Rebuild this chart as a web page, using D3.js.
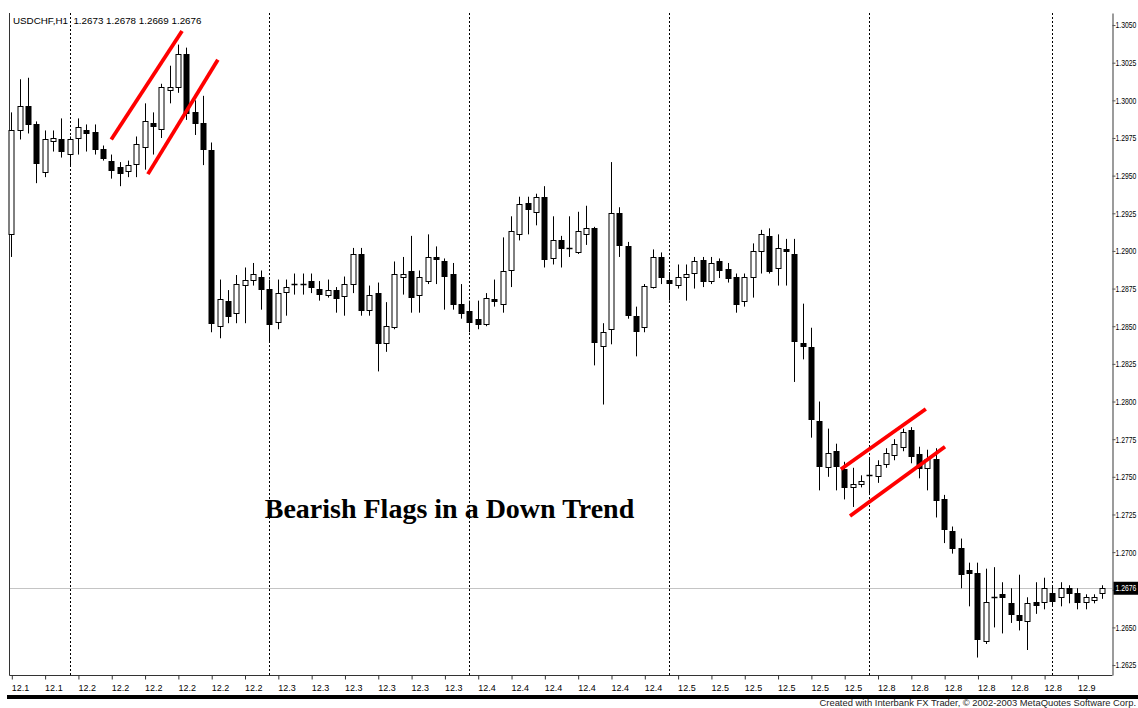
<!DOCTYPE html>
<html>
<head>
<meta charset="utf-8">
<script src="https://cdn.jsdelivr.net/npm/d3@7"></script>
<style>
  html, body { margin: 0; padding: 0; background: #fff; overflow: hidden; }
  svg { display: block; }
</style>
</head>
<body>
<svg id="chart" width="1138" height="708"></svg>
<script>
// USDCHF hourly bars
const symbol = "USDCHF,H1";

const open = [
  1.2911, 1.2980, 1.2996, 1.2984, 1.2952, 1.2973, 1.2974, 1.2964, 1.2975, 1.2980,
  1.2979, 1.2968, 1.2960, 1.2956, 1.2953, 1.2958, 1.2969, 1.2985, 1.2981, 1.3007,
  1.3009, 1.3031, 1.2992, 1.2985, 1.2967, 1.2850, 1.2867, 1.2859, 1.2878, 1.2881,
  1.2883, 1.2875, 1.2853, 1.2873, 1.2878, 1.2878, 1.2880, 1.2875, 1.2871, 1.2874,
  1.2870, 1.2878, 1.2898, 1.2861, 1.2872, 1.2839, 1.2850, 1.2883, 1.2887, 1.2871,
  1.2880, 1.2896, 1.2893, 1.2885, 1.2865, 1.2860, 1.2855, 1.2852, 1.2868, 1.2865,
  1.2887, 1.2911, 1.2932, 1.2926, 1.2936, 1.2895, 1.2907, 1.2902, 1.2899, 1.2911,
  1.2915, 1.2837, 1.2848, 1.2925, 1.2903, 1.2857, 1.2850, 1.2876, 1.2896, 1.2881,
  1.2878, 1.2883, 1.2885, 1.2894, 1.2880, 1.2893, 1.2888, 1.2883, 1.2867, 1.2883,
  1.2900, 1.2910, 1.2889, 1.2901, 1.2898, 1.2839, 1.2836, 1.2787, 1.2757, 1.2767,
  1.2755, 1.2743, 1.2745, 1.2751, 1.2751, 1.2759, 1.2765, 1.2770, 1.2781, 1.2765,
  1.2756, 1.2762, 1.2735, 1.2714, 1.2703, 1.2688, 1.2686, 1.2641, 1.2670, 1.2672,
  1.2666, 1.2658, 1.2654, 1.2667, 1.2667, 1.2673, 1.2670, 1.2676, 1.2673, 1.2667,
  1.2668, 1.2673
];
const high = [
  1.2992, 1.3014, 1.3015, 1.2986, 1.2980, 1.2980, 1.2988, 1.2976, 1.2988, 1.2984,
  1.2984, 1.2970, 1.2964, 1.2959, 1.2960, 1.2976, 1.2998, 1.2992, 1.3011, 1.3023,
  1.3037, 1.3035, 1.3000, 1.3003, 1.2972, 1.2881, 1.2874, 1.2884, 1.2889, 1.2892,
  1.2887, 1.2881, 1.2881, 1.2881, 1.2885, 1.2885, 1.2885, 1.2880, 1.2881, 1.2876,
  1.2883, 1.2902, 1.2902, 1.2877, 1.2879, 1.2866, 1.2893, 1.2896, 1.2910, 1.2887,
  1.2911, 1.2903, 1.2895, 1.2892, 1.2878, 1.2867, 1.2867, 1.2872, 1.2881, 1.2909,
  1.2923, 1.2936, 1.2936, 1.2938, 1.2943, 1.2923, 1.2910, 1.2923, 1.2926, 1.2930,
  1.2916, 1.2852, 1.2959, 1.2929, 1.2906, 1.2863, 1.2878, 1.2901, 1.2899, 1.2886,
  1.2891, 1.2891, 1.2896, 1.2896, 1.2896, 1.2895, 1.2892, 1.2885, 1.2885, 1.2905,
  1.2914, 1.2915, 1.2911, 1.2908, 1.2908, 1.2865, 1.2849, 1.2800, 1.2782, 1.2772,
  1.2760, 1.2756, 1.2751, 1.2763, 1.2761, 1.2769, 1.2775, 1.2782, 1.2783, 1.2770,
  1.2768, 1.2769, 1.2738, 1.2717, 1.2709, 1.2693, 1.2693, 1.2689, 1.2690, 1.2680,
  1.2676, 1.2685, 1.2670, 1.2680, 1.2683, 1.2678, 1.2680, 1.2678, 1.2676, 1.2672,
  1.2672, 1.2678
];
const low = [
  1.2896, 1.2974, 1.2978, 1.2945, 1.2949, 1.2966, 1.2962, 1.2956, 1.2964, 1.2966,
  1.2964, 1.2960, 1.2948, 1.2943, 1.2949, 1.2949, 1.2954, 1.2964, 1.2975, 1.2998,
  1.3005, 1.2987, 1.2977, 1.2957, 1.2846, 1.2842, 1.2852, 1.2852, 1.2852, 1.2877,
  1.2861, 1.2839, 1.2848, 1.2857, 1.2871, 1.2871, 1.2872, 1.2867, 1.2869, 1.2859,
  1.2857, 1.2872, 1.2857, 1.2857, 1.2820, 1.2833, 1.2848, 1.2871, 1.2859, 1.2859,
  1.2878, 1.2878, 1.2861, 1.2861, 1.2855, 1.2846, 1.2848, 1.2850, 1.2863, 1.2859,
  1.2876, 1.2907, 1.2911, 1.2917, 1.2889, 1.2891, 1.2889, 1.2896, 1.2898, 1.2904,
  1.2824, 1.2798, 1.2838, 1.2896, 1.2855, 1.2830, 1.2846, 1.2875, 1.2878, 1.2867,
  1.2875, 1.2867, 1.2875, 1.2876, 1.2878, 1.2882, 1.2879, 1.2859, 1.2863, 1.2869,
  1.2885, 1.2885, 1.2877, 1.2877, 1.2813, 1.2828, 1.2776, 1.2741, 1.2750, 1.2741,
  1.2735, 1.2730, 1.2743, 1.2739, 1.2746, 1.2756, 1.2761, 1.2767, 1.2759, 1.2749,
  1.2741, 1.2723, 1.2706, 1.2699, 1.2676, 1.2664, 1.2630, 1.2639, 1.2650, 1.2646,
  1.2653, 1.2648, 1.2635, 1.2659, 1.2662, 1.2664, 1.2664, 1.2666, 1.2662, 1.2662,
  1.2666, 1.2669
];
const close = [
  1.2980, 1.2996, 1.2984, 1.2958, 1.2974, 1.2975, 1.2966, 1.2974, 1.2982, 1.2978,
  1.2968, 1.2962, 1.2954, 1.2952, 1.2957, 1.2971, 1.2986, 1.2983, 1.3009, 1.3009,
  1.3031, 1.2992, 1.2985, 1.2968, 1.2852, 1.2868, 1.2857, 1.2878, 1.2881, 1.2885,
  1.2875, 1.2852, 1.2872, 1.2876, 1.2878, 1.2878, 1.2876, 1.2872, 1.2874, 1.2869,
  1.2878, 1.2898, 1.2861, 1.2871, 1.2839, 1.2850, 1.2885, 1.2885, 1.2870, 1.2883,
  1.2896, 1.2895, 1.2883, 1.2865, 1.2859, 1.2853, 1.2852, 1.2869, 1.2867, 1.2887,
  1.2913, 1.2931, 1.2928, 1.2936, 1.2895, 1.2907, 1.2902, 1.2902, 1.2913, 1.2915,
  1.2839, 1.2846, 1.2925, 1.2904, 1.2857, 1.2847, 1.2877, 1.2896, 1.2883, 1.2879,
  1.2883, 1.2885, 1.2893, 1.2880, 1.2892, 1.2887, 1.2882, 1.2865, 1.2883, 1.2900,
  1.2911, 1.2887, 1.2902, 1.2900, 1.2840, 1.2837, 1.2788, 1.2757, 1.2766, 1.2757,
  1.2743, 1.2745, 1.2747, 1.2751, 1.2758, 1.2766, 1.2772, 1.2780, 1.2764, 1.2756,
  1.2762, 1.2735, 1.2715, 1.2703, 1.2686, 1.2686, 1.2642, 1.2667, 1.2670, 1.2670,
  1.2659, 1.2655, 1.2666, 1.2665, 1.2676, 1.2668, 1.2676, 1.2673, 1.2667, 1.2670,
  1.2670, 1.2676
];

// time axis labels, one every four bars
const timeLabels = [
  "12.1", "12.1", "12.2", "12.2", "12.2", "12.2", "12.2", "12.2",
  "12.3", "12.3", "12.3", "12.3", "12.3", "12.3",
  "12.4", "12.4", "12.4", "12.4", "12.4", "12.4",
  "12.5", "12.5", "12.5", "12.5", "12.5", "12.5",
  "12.8", "12.8", "12.8", "12.8", "12.8", "12.8", "12.9"
];

const priceTicks = [
  1.2625, 1.2650, 1.2675, 1.2700, 1.2725, 1.2750, 1.2775, 1.2800, 1.2825,
  1.2850, 1.2875, 1.2900, 1.2925, 1.2950, 1.2975, 1.3000, 1.3025, 1.3050
];

// bars that open a new trading day
const daySeparators = [7, 31, 55, 79, 103, 125];

// flag channel boundaries: [bar, price, bar, price]
const flagLines = [
  [12.0, 1.2974, 20.5, 1.3046],
  [16.4, 1.2951, 24.8, 1.3027],
  [99.6, 1.2755, 109.8, 1.2795],
  [100.7, 1.2724, 112.1, 1.2770]
];

const chartTitle = "Bearish Flags in a Down Trend";
const credit = "Created with Interbank FX Trader, \u00a9 2002-2003 MetaQuotes Software Corp.";

// ---- layout ----
const SANS = "'Liberation Sans', Arial, sans-serif";
const SERIF = "'Liberation Serif', 'Times New Roman', serif";
const n = open.length;
const plotLeft = 9.5, plotRight = 1112.5, plotTop = 13, plotBottom = 675.5;
const fmt = d3.format(".4f");
const labelSqueeze = 0.76;   // narrow price labels so they fit the right margin

const svg = d3.select("#chart");
svg.append("rect").attr("width", 1138).attr("height", 708).attr("fill", "#fff");

const x = d3.scaleLinear().domain([0, n - 1]).range([11.3, 1102.4]);
const y = d3.scaleLinear().domain([1.26184, 1.30580]).range([675, 13]);

const px = i => Math.round(x(i)) + 0.5;

// day separators
svg.append("g").selectAll("line").data(daySeparators).join("line")
  .attr("x1", d => px(d)).attr("x2", d => px(d))
  .attr("y1", plotTop).attr("y2", plotBottom)
  .attr("stroke", "#000").attr("stroke-width", 1)
  .attr("stroke-dasharray", "2,2");

// current price line
const last = close[n - 1];
svg.append("line")
  .attr("x1", plotLeft).attr("x2", plotRight)
  .attr("y1", Math.round(y(last)) + 0.5).attr("y2", Math.round(y(last)) + 0.5)
  .attr("stroke", "#c4c4c4").attr("stroke-width", 1);

// frame
svg.append("line").attr("x1", plotLeft).attr("x2", plotLeft)
  .attr("y1", plotTop).attr("y2", plotBottom)
  .attr("stroke", "#333").attr("stroke-width", 1);
svg.append("line").attr("x1", plotLeft).attr("x2", plotRight)
  .attr("y1", plotBottom).attr("y2", plotBottom)
  .attr("stroke", "#333").attr("stroke-width", 1);

// candles
const bars = d3.range(n).map(i => ({ i, o: open[i], h: high[i], l: low[i], c: close[i] }));
const cg = svg.append("g");

cg.selectAll("line.wick").data(bars).join("line")
  .attr("class", "wick")
  .attr("x1", d => px(d.i)).attr("x2", d => px(d.i))
  .attr("y1", d => y(d.h)).attr("y2", d => y(d.l))
  .attr("stroke", "#000").attr("stroke-width", 1);

const bodies = bars.filter(d => Math.abs(y(d.o) - y(d.c)) >= 1);
const dojis = bars.filter(d => Math.abs(y(d.o) - y(d.c)) < 1);

cg.selectAll("rect.body").data(bodies).join("rect")
  .attr("class", "body")
  .attr("x", d => px(d.i) - 2.5)
  .attr("width", 5)
  .attr("y", d => Math.round(y(Math.max(d.o, d.c))) + 0.5)
  .attr("height", d => Math.max(1, Math.round(Math.abs(y(d.o) - y(d.c)))))
  .attr("fill", d => d.c >= d.o ? "#fff" : "#000")
  .attr("stroke", "#000").attr("stroke-width", 1);

cg.selectAll("line.doji").data(dojis).join("line")
  .attr("class", "doji")
  .attr("x1", d => px(d.i) - 3).attr("x2", d => px(d.i) + 3)
  .attr("y1", d => Math.round(y(d.c)) + 0.5).attr("y2", d => Math.round(y(d.c)) + 0.5)
  .attr("stroke", "#000").attr("stroke-width", 1.5);

// flag channels
svg.append("g").selectAll("line").data(flagLines).join("line")
  .attr("x1", d => x(d[0])).attr("y1", d => y(d[1]))
  .attr("x2", d => x(d[2])).attr("y2", d => y(d[3]))
  .attr("stroke", "#ff0000").attr("stroke-width", 3.8);

// price axis
const yAxis = svg.append("g")
  .attr("transform", `translate(${plotRight},0)`)
  .call(d3.axisRight(y).tickValues(priceTicks).tickFormat(fmt)
    .tickSize(3).tickSizeOuter(0).tickPadding(0));
yAxis.select(".domain").attr("stroke", "#7a7a7a").attr("stroke-width", 1.5);
yAxis.selectAll(".tick line").attr("stroke", "#555");
yAxis.selectAll("text")
  .attr("x", 0).attr("transform", `translate(3,0) scale(${labelSqueeze},1)`)
  .style("font-family", SANS).style("font-size", "9px").attr("fill", "#000");

// current price marker
const cy = y(last);
svg.append("rect").attr("x", 1113.5).attr("y", cy - 6.5).attr("width", 25).attr("height", 13)
  .attr("fill", "#000");
svg.append("text")
  .attr("transform", `translate(1115.5,${cy}) scale(${labelSqueeze},1)`)
  .attr("dy", "0.35em")
  .style("font-family", SANS).style("font-size", "9px").attr("fill", "#fff")
  .text(fmt(last));

// time axis
const xAxis = svg.append("g")
  .attr("transform", `translate(0,${plotBottom})`)
  .call(d3.axisBottom(x).tickValues(d3.range(0, n, 4))
    .tickFormat((d, k) => timeLabels[k]).tickSize(4).tickSizeOuter(0).tickPadding(5));
xAxis.select(".domain").remove();
xAxis.selectAll(".tick line").attr("stroke", "#333").attr("transform", "translate(0.5,0)");
xAxis.selectAll("text").attr("text-anchor", "start")
  .style("font-family", SANS).style("font-size", "9px").attr("fill", "#000");

// header
svg.append("text").attr("x", 13).attr("y", 24)
  .style("font-family", SANS).style("font-size", "9.8px").style("white-space", "pre")
  .attr("fill", "#000")
  .text(`${symbol}  ${fmt(open[n - 1])} ${fmt(high[n - 1])} ${fmt(low[n - 1])} ${fmt(close[n - 1])}`);

// title
svg.append("text").attr("x", 449.5).attr("y", 518).attr("text-anchor", "middle")
  .style("font-family", SERIF).style("font-weight", "bold").style("font-size", "28px")
  .attr("fill", "#000")
  .text(chartTitle);

// footer bar and credit
svg.append("rect").attr("x", 7).attr("y", 695).attr("width", 1131).attr("height", 4).attr("fill", "#000");
svg.append("text").attr("x", 1136).attr("y", 706).attr("text-anchor", "end")
  .style("font-family", SANS).style("font-size", "9.4px").attr("fill", "#222")
  .text(credit);
</script>
</body>
</html>
